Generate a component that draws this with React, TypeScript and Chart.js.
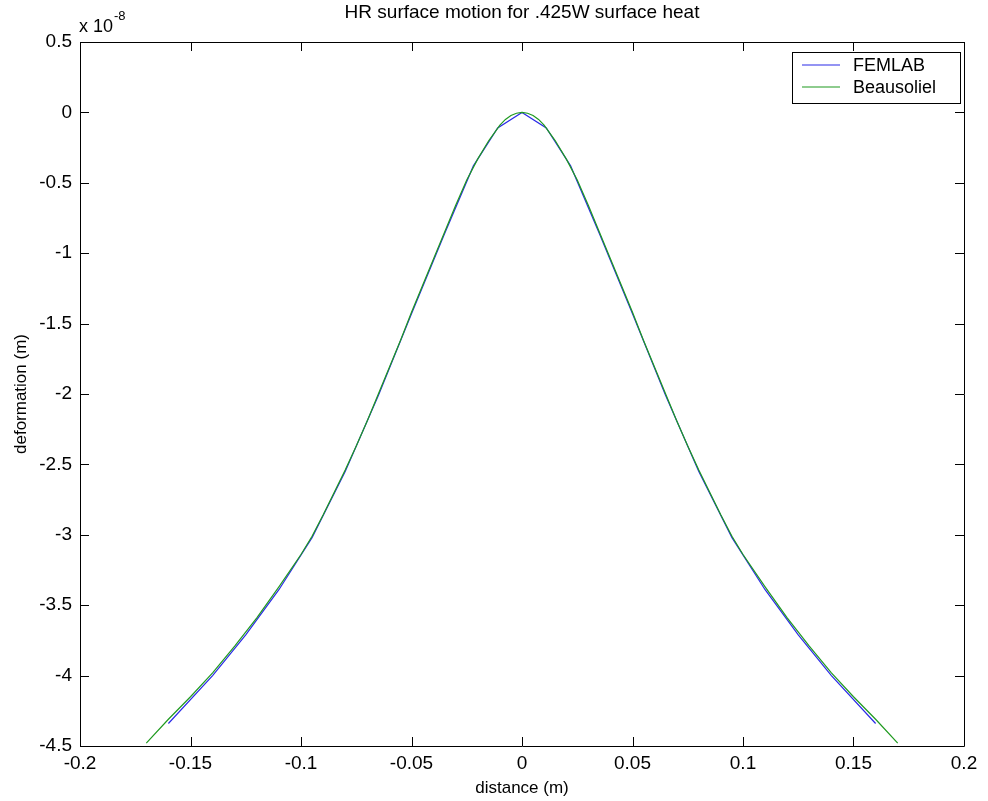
import React, { useEffect, useRef } from "react";
import { Chart, registerables } from "chart.js";

Chart.register(...registerables);

// FEMLAB (x in m, deformation in units of 1e-8 m)
const femlabX = [-0.16, -0.14, -0.125, -0.11, -0.095, -0.08, -0.065, -0.05, -0.035, -0.022, -0.011, 0, 0.011, 0.022, 0.035, 0.05, 0.065, 0.08, 0.095, 0.11, 0.125, 0.14, 0.16];
const femlabY = [-4.34, -4.0, -3.71, -3.39, -3.02, -2.55, -2.01, -1.43, -0.86, -0.38, -0.11, 0, -0.11, -0.38, -0.86, -1.43, -2.01, -2.55, -3.02, -3.39, -3.71, -4.0, -4.34];

// Beausoliel
const beauX = [-0.17, -0.16, -0.15, -0.14, -0.13, -0.12, -0.11, -0.1, -0.095, -0.09, -0.085, -0.08, -0.075, -0.07, -0.065, -0.06, -0.055, -0.05, -0.045, -0.04, -0.035, -0.03, -0.025, -0.02, -0.015, -0.01, -0.0075, -0.005, -0.0025, 0, 0.0025, 0.005, 0.0075, 0.01, 0.015, 0.02, 0.025, 0.03, 0.035, 0.04, 0.045, 0.05, 0.055, 0.06, 0.065, 0.07, 0.075, 0.08, 0.085, 0.09, 0.095, 0.1, 0.11, 0.12, 0.13, 0.14, 0.15, 0.16, 0.17];
const beauY = [-4.48, -4.31, -4.15, -3.98, -3.79, -3.59, -3.37, -3.14, -3.01, -2.86, -2.7, -2.54, -2.37, -2.19, -2.0, -1.81, -1.62, -1.42, -1.23, -1.04, -0.85, -0.66, -0.48, -0.33, -0.2, -0.09, -0.05, -0.022, -0.006, 0, -0.006, -0.022, -0.05, -0.09, -0.2, -0.33, -0.48, -0.66, -0.85, -1.04, -1.23, -1.42, -1.62, -1.81, -2.0, -2.19, -2.37, -2.54, -2.7, -2.86, -3.01, -3.14, -3.37, -3.59, -3.79, -3.98, -4.15, -4.31, -4.48];

const seriesNames = ["FEMLAB", "Beausoliel"];
const seriesColors = ["#2a2ae8", "#1f9a1f"];
const xTicks = [-0.2, -0.15, -0.1, -0.05, 0, 0.05, 0.1, 0.15, 0.2];
const yTicks = [0.5, 0, -0.5, -1, -1.5, -2, -2.5, -3, -3.5, -4, -4.5];
const titleText = "HR surface motion for .425W surface heat";
const xLabel = "distance (m)";
const yLabel = "deformation (m)";
const FONT = "'Liberation Sans', Arial, sans-serif";

const fmt = (v: number) => {
  const r = Math.round(v * 1000) / 1000;
  return r === 0 ? "0" : String(r);
};

const framePlugin = {
  id: "matlabFrame",
  afterDraw(chart: any) {
    const { ctx, chartArea } = chart;
    const { left, right, top, bottom } = chartArea;
    const xs = chart.scales.x;
    const ys = chart.scales.y;
    ctx.save();
    ctx.strokeStyle = "#000";
    ctx.lineWidth = 1;
    ctx.beginPath();
    ctx.rect(Math.round(left) + 0.5, Math.round(top) + 0.5, Math.round(right - left), Math.round(bottom - top));
    ctx.stroke();
    const tl = 9;
    ctx.beginPath();
    xTicks.forEach((v) => {
      const px = Math.round(xs.getPixelForValue(v)) + 0.5;
      ctx.moveTo(px, bottom);
      ctx.lineTo(px, bottom - tl);
      ctx.moveTo(px, top);
      ctx.lineTo(px, top + tl);
    });
    yTicks.forEach((v) => {
      const py = Math.round(ys.getPixelForValue(v)) + 0.5;
      ctx.moveTo(left, py);
      ctx.lineTo(left + tl, py);
      ctx.moveTo(right, py);
      ctx.lineTo(right - tl, py);
    });
    ctx.stroke();

    // title
    ctx.fillStyle = "#000";
    ctx.font = `19px ${FONT}`;
    ctx.textAlign = "center";
    ctx.textBaseline = "middle";
    ctx.fillText(titleText, (left + right) / 2, 13);

    // exponent label
    ctx.textAlign = "left";
    ctx.textBaseline = "alphabetic";
    ctx.font = `18px ${FONT}`;
    ctx.fillText("x 10", left - 1, 32);
    const w = ctx.measureText("x 10").width;
    ctx.font = `13px ${FONT}`;
    ctx.fillText("-8", left - 1 + w + 1, 20);

    // legend
    const lx = 792, ly = 52, lw = 168, lh = 51;
    ctx.fillStyle = "#fff";
    ctx.fillRect(lx, ly, lw, lh);
    ctx.strokeStyle = "#000";
    ctx.strokeRect(lx + 0.5, ly + 0.5, lw, lh);
    ctx.font = `18px ${FONT}`;
    ctx.textBaseline = "middle";
    const rows = [65, 87];
    seriesNames.forEach((name, i) => {
      ctx.strokeStyle = seriesColors[i];
      ctx.lineWidth = 1.2;
      ctx.beginPath();
      ctx.moveTo(802, rows[i]);
      ctx.lineTo(840, rows[i]);
      ctx.stroke();
      ctx.fillStyle = "#000";
      ctx.fillText(name, 853, rows[i] + 1);
    });
    ctx.restore();
  },
};

export default function App() {
  const ref = useRef<HTMLCanvasElement | null>(null);
  useEffect(() => {
    if (!ref.current) return;
    const chart = new Chart(ref.current, {
      type: "scatter",
      data: {
        datasets: [
          {
            label: seriesNames[0],
            data: femlabX.map((x, i) => ({ x, y: femlabY[i] })),
            showLine: true,
            borderColor: seriesColors[0],
            borderWidth: 1.2,
            pointRadius: 0,
            order: 1,
          },
          {
            label: seriesNames[1],
            data: beauX.map((x, i) => ({ x, y: beauY[i] })),
            showLine: true,
            borderColor: seriesColors[1],
            borderWidth: 1.2,
            pointRadius: 0,
            order: 0,
          },
        ],
      },
      options: {
        animation: false,
        responsive: false,
        layout: { padding: { top: 42, right: 24, left: 0, bottom: 0 } },
        plugins: { legend: { display: false }, title: { display: false }, tooltip: { enabled: false } },
        scales: {
          x: {
            type: "linear",
            min: -0.2,
            max: 0.2,
            afterFit: (s: any) => {
              s.height = 55;
            },
            afterBuildTicks: (s: any) => {
              s.ticks = xTicks.map((v) => ({ value: v }));
            },
            grid: { display: false, drawTicks: false },
            border: { display: false },
            ticks: {
              color: "#000",
              padding: 6,
              maxRotation: 0,
              autoSkip: false,
              font: { family: FONT, size: 19 },
              callback: (v: any) => fmt(Number(v)),
            },
            title: {
              display: true,
              text: xLabel,
              color: "#000",
              font: { family: FONT, size: 17 },
              padding: { top: 0, bottom: 2 },
            },
          },
          y: {
            type: "linear",
            min: -4.5,
            max: 0.5,
            afterFit: (s: any) => {
              s.width = 80;
            },
            afterBuildTicks: (s: any) => {
              s.ticks = yTicks.map((v) => ({ value: v }));
            },
            grid: { display: false, drawTicks: false },
            border: { display: false },
            ticks: {
              color: "#000",
              padding: 8,
              autoSkip: false,
              font: { family: FONT, size: 19 },
              callback: (v: any) => fmt(Number(v)),
            },
            title: {
              display: true,
              text: yLabel,
              color: "#000",
              font: { family: FONT, size: 17 },
              padding: { top: 11, bottom: 0 },
            },
          },
        },
      },
      plugins: [framePlugin],
    });
    return () => chart.destroy();
  }, []);
  return (
    <div style={{ position: "absolute", left: 0, top: 0, width: 988, height: 801, background: "#fff" }}>
      <canvas ref={ref} width={988} height={801} style={{ width: 988, height: 801, display: "block" }} />
    </div>
  );
}
